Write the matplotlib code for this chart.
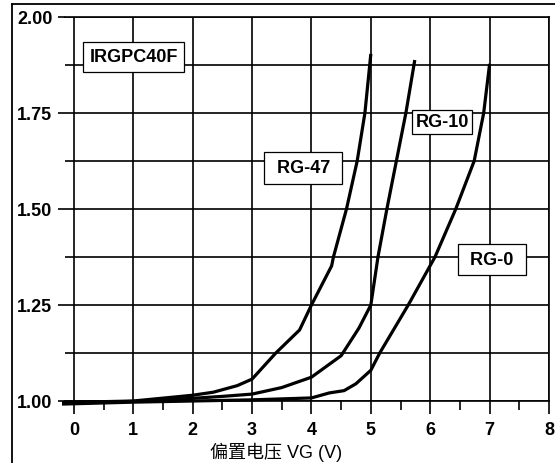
import numpy as np
import matplotlib
matplotlib.use("Agg")
import matplotlib.pyplot as plt
from matplotlib.lines import Line2D

# ── data ─────────────────────────────────────────────────────────────────────

rg47_x = [-0.2, 1.0, 2.0, 2.35, 2.75, 3.0, 3.4, 3.8, 4.0, 4.34, 4.37, 4.59, 4.77, 4.90, 5.0]
rg47_y = [0.996, 1.0, 1.015, 1.023, 1.04, 1.057, 1.125, 1.185, 1.25, 1.352, 1.375, 1.5, 1.625, 1.75, 1.904]

rg10_x = [-0.2, 1.0, 2.0, 2.5, 3.0, 3.5, 4.0, 4.5, 4.8, 5.0, 5.12, 5.27, 5.43, 5.59, 5.74]
rg10_y = [0.994, 0.999, 1.007, 1.012, 1.018, 1.035, 1.062, 1.118, 1.19, 1.25, 1.375, 1.5, 1.625, 1.75, 1.888]

rg0_x = [-0.2, 1.0, 2.0, 3.0, 4.0, 4.3, 4.55, 4.75, 5.0, 5.15, 5.63, 6.08, 6.43, 6.74, 6.90, 7.0]
rg0_y = [0.992, 0.997, 1.0, 1.003, 1.008, 1.021, 1.027, 1.045, 1.08, 1.125, 1.25, 1.375, 1.5, 1.625, 1.75, 1.878]

labels = ["IRGPC40F", " RG-47 ", "RG-10", " RG-0 "]
label_x = [1.01, 3.86, 6.20, 7.04]
label_y = [1.896, 1.607, 1.727, 1.368]
label_pad = [0.35, 0.4, 0.2, 0.4]

x_major = np.arange(0, 9, 1)
x_minor = np.arange(0.5, 8, 1)
y_major = [1.00, 1.25, 1.50, 1.75, 2.00]
y_minor = [1.125, 1.375, 1.625, 1.875]

XLABEL = "偏置电压 VG (V)"

# ── figure ───────────────────────────────────────────────────────────────────

plt.rcParams["font.family"] = ["Liberation Sans", "Noto Sans CJK SC"]
LW = 1.2

fig = plt.figure(figsize=(5.55, 4.64), dpi=100)
ax = fig.add_axes([65 / 555, 1 - 402 / 464, (549 - 65) / 555, (402 - 18) / 464])

for xs, ys in [(rg47_x, rg47_y), (rg10_x, rg10_y), (rg0_x, rg0_y)]:
    ax.plot(xs, ys, color="black", linewidth=2.3, clip_on=False, zorder=3,
            solid_joinstyle="round", solid_capstyle="butt")

ax.set_xlim(-0.15, 8)
ax.set_ylim(1.0, 2.0)

ax.set_xticks(x_major)
ax.set_xticks(x_minor, minor=True)
ax.set_yticks(y_major)
ax.set_yticks(y_minor, minor=True)
ax.set_yticklabels([f"{v:.2f}" for v in y_major])

ax.xaxis.grid(True, which="major", color="black", linewidth=LW)
ax.yaxis.grid(True, which="both", color="black", linewidth=LW)
ax.set_axisbelow(True)

for side in ["top", "bottom", "right"]:
    ax.spines[side].set_linewidth(LW)
ax.spines["left"].set_visible(False)

ax.tick_params(axis="x", which="major", direction="out", length=9.4, width=LW, pad=5,
               labelsize=13)
ax.tick_params(axis="x", which="minor", direction="out", length=6.5, width=LW)
ax.tick_params(axis="y", which="major", direction="out", length=5, width=LW, pad=4,
               labelsize=13)
ax.tick_params(axis="y", which="minor", length=0)
for lab in ax.get_xticklabels() + ax.get_yticklabels():
    lab.set_fontweight("bold")

for txt, lx, ly, pd in zip(labels, label_x, label_y, label_pad):
    ax.text(lx, ly, txt, ha="center", va="center", fontsize=13, fontweight="bold",
            zorder=5,
            bbox=dict(boxstyle=f"square,pad={pd}", facecolor="white",
                      edgecolor="black", linewidth=0.9))

fig.text(0.497, 0.026, XLABEL, ha="center", va="center", fontsize=13)

# outer frame (left and top edges)
fig.add_artist(Line2D([11.5 / 555, 11.5 / 555], [0, 1 - 5 / 464],
                      transform=fig.transFigure, color="black", linewidth=1.3))
fig.add_artist(Line2D([11.5 / 555, 1], [1 - 5 / 464, 1 - 5 / 464],
                      transform=fig.transFigure, color="black", linewidth=1.3))

plt.savefig("out.png", dpi=100)
